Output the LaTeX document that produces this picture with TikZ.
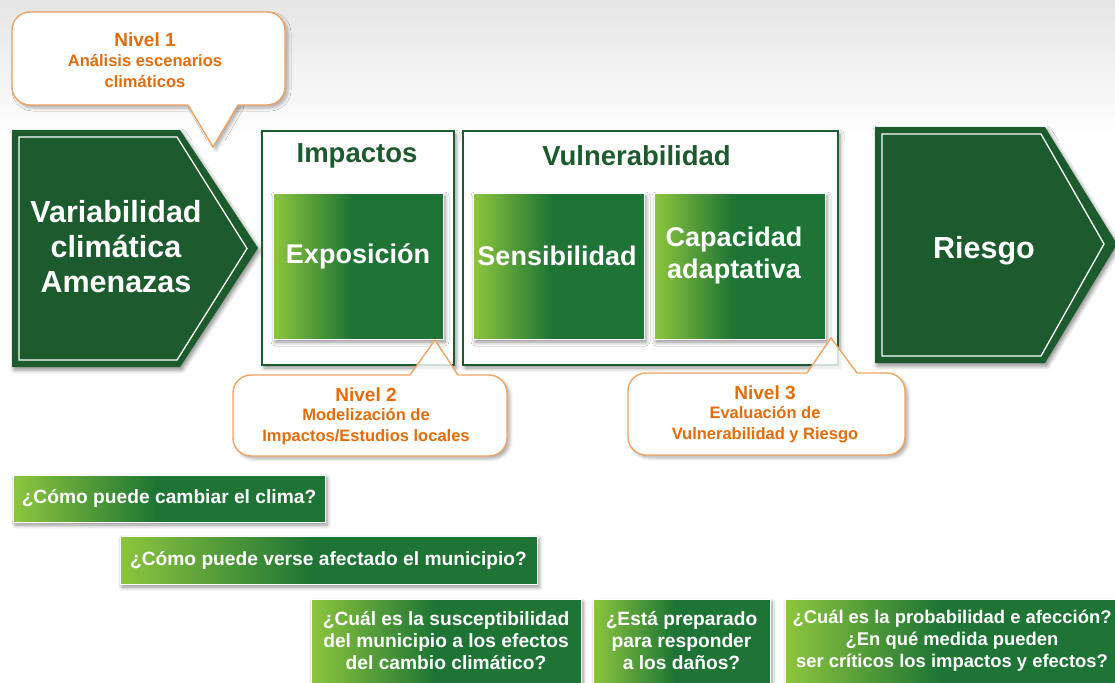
\documentclass[tikz,border=0pt]{standalone}
\usepackage{fontspec}
\setmainfont{Liberation Sans}
\usetikzlibrary{shadows.blur}
\definecolor{dkg}{HTML}{1C5B2D}
\definecolor{lgr}{HTML}{8DC63F}
\definecolor{mgr}{HTML}{1D7434}
\definecolor{org}{HTML}{E46C0A}
\definecolor{orb}{HTML}{F0A464}
\pgfdeclarehorizontalshading{gradg}{100bp}{color(0bp)=(lgr); color(25bp)=(lgr); color(48bp)=(mgr); color(100bp)=(mgr)}
\begin{document}
\begin{tikzpicture}[x=1pt,y=-1pt,
  shd/.style={blur shadow={shadow xshift=2pt, shadow yshift=-3pt, shadow blur radius=4pt, shadow opacity=45}},
  calshd/.style={blur shadow={shadow xshift=3pt, shadow yshift=-3pt, shadow blur radius=3pt, shadow opacity=30}},
  gbox/.style={shd, shade, shading=gradg, draw=white, line width=1pt, inner sep=0pt, text=white, align=center, font=\bfseries\fontsize{19.2}{22}\selectfont},
  frame/.style={shd, fill=white, draw=dkg, line width=1.5pt, inner sep=0pt},
  bigtxt/.style={text=white, font=\bfseries\fontsize{27}{32}\selectfont, align=center, inner sep=0pt},
  arrtxt/.style={text=white, font=\bfseries\fontsize{30.5}{35}\selectfont, align=center, inner sep=0pt},
  ttl/.style={text=dkg, font=\bfseries\fontsize{27.5}{32}\selectfont, inner sep=0pt},
  caltxt/.style={text=org, align=center, font=\bfseries\fontsize{16.5}{21}\selectfont, inner sep=0pt},
  nivtxt/.style={text=org, font=\bfseries\fontsize{19}{21}\selectfont, inner sep=0pt},
  calline/.style={draw=orb, line width=1.4pt},
  arrline/.style={draw=white, line width=1.3pt}]
\useasboundingbox (0,0) rectangle (1115,682);
\clip (0,0) rectangle (1115,682);
% background
\shade[top color=gray!20, bottom color=white] (0,0) rectangle (1115,140);

% ---- left arrow
\path[shd, fill=dkg] (12,130) -- (180,130) -- (258,248) -- (180,367) -- (12,367) -- cycle;
\draw[arrline] (19,137) -- (177,137) -- (247,248.5) -- (177,360) -- (19,360) -- cycle;
\node[arrtxt] (var) at (116,247) {Variabilidad\\clim\'atica\\Amenazas};

% ---- right arrow
\path[shd, fill=dkg] (875,127) -- (1045,127) -- (1117,244) -- (1045,363) -- (875,363) -- cycle;
\draw[arrline] (882,134) -- (1041,134) -- (1104,244) -- (1041,356) -- (882,356) -- cycle;
\node[arrtxt] (ries) at (984,251) {Riesgo};

% ---- frames
\node[frame, minimum width=192, minimum height=234] (impfr) at (358,248) {};
\node[frame, minimum width=375, minimum height=234] (vulfr) at (650.5,248) {};
\node[ttl] (imptt) at (357,156) {Impactos};
\node[ttl] (vultt) at (636.5,156) {Vulnerabilidad};

% ---- inner boxes
\node[gbox, minimum width=170, minimum height=146] (expo) at (358,266) {};
\node[gbox, minimum width=171, minimum height=146] (sens) at (558.5,266) {};
\node[gbox, minimum width=171, minimum height=146] (capa) at (739.5,266) {};
\node[bigtxt] (expot) at (358,256) {Exposici\'on};
\node[bigtxt] (senst) at (557,256) {Sensibilidad};
\node[bigtxt] (capat) at (734,256) {Capacidad\\adaptativa};

% ---- callout 1 (tail down)
\path[calshd] (12,12) [rounded corners=18] rectangle (285,105);
\path[calshd] (188,104) -- (213,147) -- (238,104) -- cycle;
\fill[white] (12,12) [rounded corners=18] rectangle (285,105);
\fill[white] (188,104) -- (213,147) -- (238,104) -- cycle;
\draw[calline, rounded corners=18] (188,105) -- (12,105) -- (12,12) -- (285,12) -- (285,105) -- (238,105);
\draw[calline, line join=miter] (238,105) -- (213,147) -- (188,105);
\node[nivtxt] (n1) at (145,40) {Nivel 1};
\node[caltxt] (n1t) at (145,71) {An\'alisis escenarios\\clim\'aticos};

% ---- callout 2 (tail up)
\path[calshd] (233,375) [rounded corners=18] rectangle (507,456);
\fill[white] (233,375) [rounded corners=18] rectangle (507,456);
\fill[white, fill opacity=0.8] (410,375.5) -- (435,340) -- (458,375.5) -- cycle;
\draw[calline, rounded corners=18] (410,375) -- (233,375) -- (233,456) -- (507,456) -- (507,375) -- (458,375);
\draw[calline, line join=miter] (458,375) -- (435,340) -- (410,375);
\node[nivtxt] (n2) at (366,395) {Nivel 2};
\node[caltxt] (n2t) at (366,427) {Modelizaci\'on de\\Impactos/Estudios locales};

% ---- callout 3 (tail up)
\path[calshd] (628,373) [rounded corners=18] rectangle (905,455);
\fill[white] (628,373) [rounded corners=18] rectangle (905,455);
\fill[white, fill opacity=0.8] (807,373.5) -- (831,338) -- (857,373.5) -- cycle;
\draw[calline, rounded corners=18] (807,373) -- (628,373) -- (628,455) -- (905,455) -- (905,373) -- (857,373);
\draw[calline, line join=miter] (857,373) -- (831,338) -- (807,373);
\node[nivtxt] (n3) at (765,393) {Nivel 3};
\node[caltxt] (n3t) at (765,425) {Evaluaci\'on de\\Vulnerabilidad y Riesgo};

% ---- question boxes
\node[gbox, minimum width=312, minimum height=47] (q1) at (169,498.5) {¿Cómo puede cambiar el clima?};
\node[gbox, minimum width=417, minimum height=48] (q2) at (328.5,560) {¿Cómo puede verse afectado el municipio?};
\node[gbox, minimum width=270, minimum height=84] (q3) at (446,641) {¿Cuál es la susceptibilidad\\del municipio a los efectos\\del cambio climático?};
\node[gbox, minimum width=177, minimum height=84] (q4) at (681.5,641) {¿Está preparado\\para responder\\a los daños?};
\node[gbox, minimum width=340, minimum height=84, font=\bfseries\fontsize{18.4}{22}\selectfont] (q5) at (955,641) {};
\node[text=white, align=center, inner sep=0pt, font=\bfseries\fontsize{18.4}{22}\selectfont] (q5t) at (952,641) {¿Cuál es la probabilidad e afección?\\¿En qué medida pueden\\ser críticos los impactos y efectos?};
\end{tikzpicture}
\end{document}
